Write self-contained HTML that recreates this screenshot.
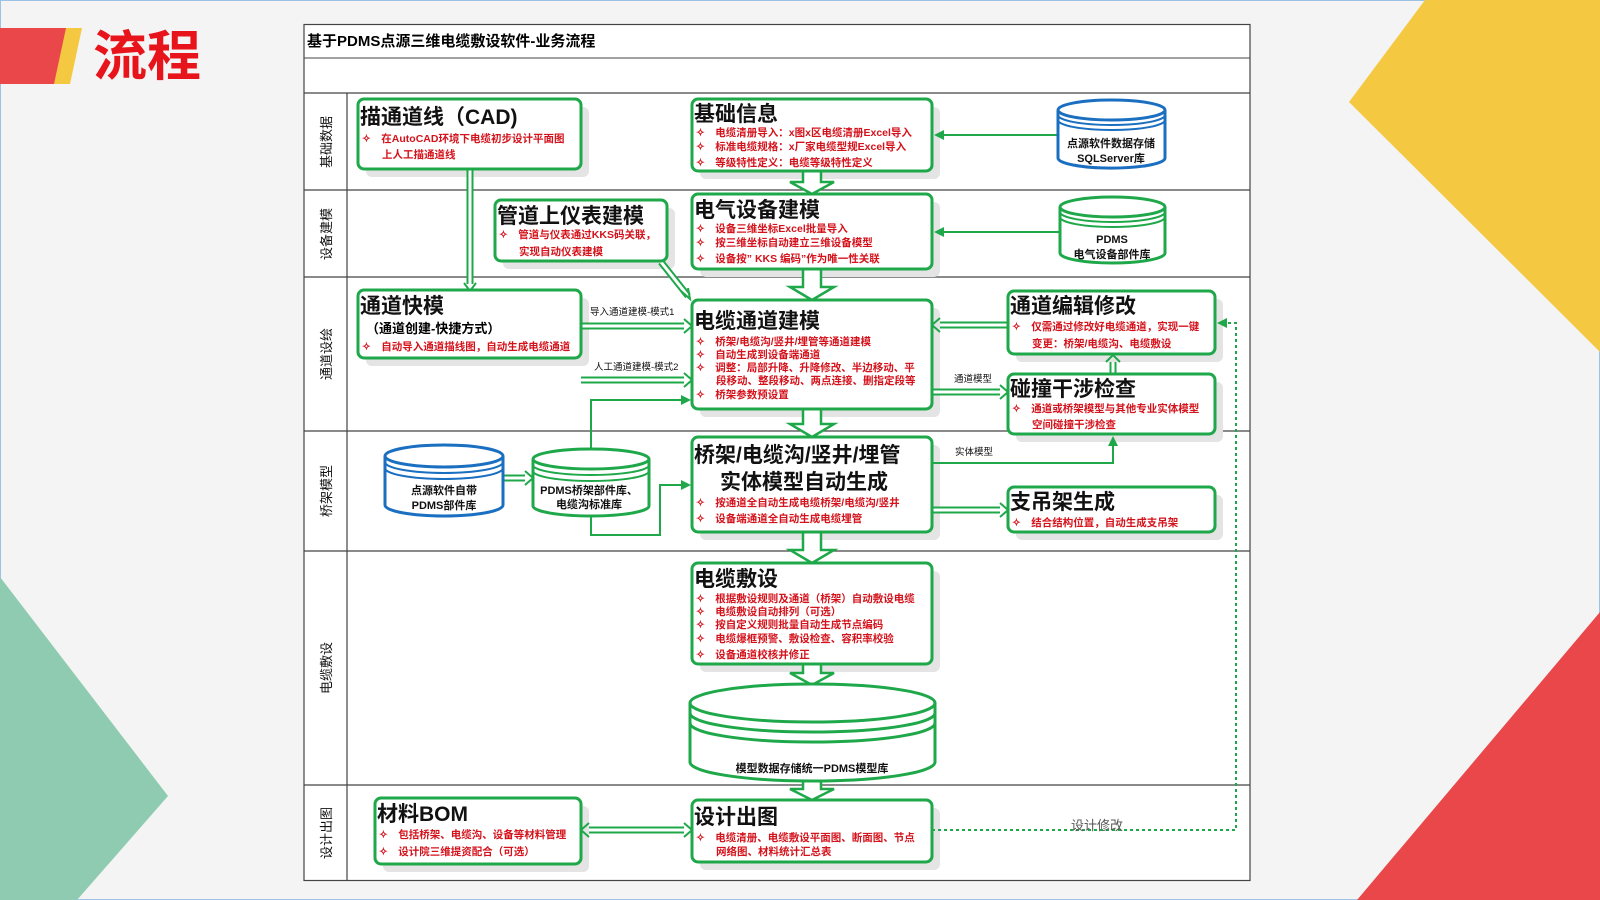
<!DOCTYPE html>
<html><head><meta charset="utf-8"><style>
html,body{margin:0;padding:0;width:1600px;height:900px;overflow:hidden;background:#f4f4f4}
svg{display:block}
text{font-family:"Liberation Sans","Noto Sans CJK SC",sans-serif}
.t{font-size:21px;font-weight:bold;fill:#111}
.b{font-size:10.5px;font-weight:bold;fill:#d4121b}
.bx{fill:#fff;stroke:#1fa84a;stroke-width:3}
.sh{fill:#e4e4e4}
.ln{fill:none;stroke:#1fa84a;stroke-width:2}
.dl{fill:none;stroke:#1fa84a;stroke-width:7}
.dw{fill:none;stroke:#fff;stroke-width:3}
.lane{font-size:13px;fill:#111}
.lb{font-size:9.5px;fill:#111}
</style></head><body>
<svg width="1600" height="900" viewBox="0 0 1600 900">
<defs>
<marker id="ah" markerWidth="10" markerHeight="10" refX="8" refY="5" orient="auto" markerUnits="userSpaceOnUse"><path d="M0,0 L10,5 L0,10 Z" fill="#1fa84a"/></marker>
</defs>
<rect x="0.5" y="0.5" width="1599" height="899" fill="#f4f4f4" stroke="#9cc3e6"/>
<polygon points="1425,0 1600,0 1600,352 1349,102" fill="#f5c842"/>
<polygon points="0,577 168,796 77,900 0,900" fill="#8ecbb0"/>
<polygon points="1600,612 1357,900 1600,900" fill="#e9474a"/>
<polygon points="0,28 68,28 57,84 0,84" fill="#e9474a"/>
<polygon points="66,28 82,28 70,84 54,84" fill="#f5c842"/>
<text x="93" y="75" style="font-size:54px;font-weight:bold;fill:#e8141c">流程</text>

<rect x="304" y="24.5" width="946" height="856" fill="#fff" stroke="#444" stroke-width="1.2"/>
<line x1="304" y1="58" x2="1250" y2="58" stroke="#444"/>
<text x="307" y="46" style="font-size:15px;font-weight:bold">基于PDMS点源三维电缆敷设软件-业务流程</text>
<g stroke="#444" stroke-width="1.2">
<line x1="304" y1="93" x2="1250" y2="93"/><line x1="304" y1="190" x2="1250" y2="190"/>
<line x1="304" y1="277" x2="1250" y2="277"/><line x1="304" y1="431" x2="1250" y2="431"/>
<line x1="304" y1="551" x2="1250" y2="551"/><line x1="304" y1="785" x2="1250" y2="785"/>
<line x1="347" y1="93" x2="347" y2="881"/>
</g>
<g class="lane">
<text transform="translate(331,142) rotate(-90)" text-anchor="middle">基础数据</text>
<text transform="translate(331,234) rotate(-90)" text-anchor="middle">设备建模</text>
<text transform="translate(331,354) rotate(-90)" text-anchor="middle">通道设绘</text>
<text transform="translate(331,491) rotate(-90)" text-anchor="middle">桥架模型</text>
<text transform="translate(331,668) rotate(-90)" text-anchor="middle">电缆敷设</text>
<text transform="translate(331,833) rotate(-90)" text-anchor="middle">设计出图</text>
</g>

<g class="sh">
<rect x="366" y="107" width="223" height="70" rx="6"/><rect x="700" y="107" width="240" height="72" rx="6"/>
<rect x="503" y="208" width="172" height="61" rx="6"/><rect x="700" y="202" width="240" height="75" rx="6"/>
<rect x="366" y="298" width="223" height="68" rx="6"/><rect x="700" y="308" width="240" height="109" rx="6"/>
<rect x="1016" y="299" width="207" height="63" rx="6"/><rect x="1016" y="382" width="207" height="60" rx="6"/>
<rect x="700" y="445" width="240" height="95" rx="6"/><rect x="1016" y="495" width="207" height="45" rx="6"/>
<rect x="700" y="571" width="240" height="101" rx="6"/><rect x="383" y="806" width="206" height="66" rx="6"/>
<rect x="700" y="808" width="240" height="62" rx="6"/>
</g>

<g fill="#fff" stroke="#1fa84a" stroke-width="2.5">
<polygon points="803,171 821,171 821,182 834,182 812,194 790,182 803,182"/>
<polygon points="803,269 821,269 821,287 834,287 812,300 790,287 803,287"/>
<polygon points="803,409 821,409 821,424 834,424 812,437 790,424 803,424"/>
<polygon points="803,532 821,532 821,550 834,550 812,563 790,550 803,550"/>
<polygon points="803,664 821,664 821,673 834,673 812,685 790,673 803,673"/>
<polygon points="803,781 821,781 821,789 834,789 812,800 790,789 803,789"/>
</g>

<g>
<path class="dl" d="M470,169 V284"/><path class="dw" d="M470,169 V284"/>
<path class="dl" d="M661,262 L688,296"/><path class="dw" d="M661,262 L688,296"/>
<path class="dl" d="M581,326 H684"/><path class="dw" d="M581,326 H684"/>
<path class="dl" d="M581,380 H684"/><path class="dw" d="M581,380 H684"/>
<path class="dl" d="M503,478 H525"/><path class="dw" d="M503,478 H525"/>
<path class="dl" d="M1008,325 H940"/><path class="dw" d="M1008,325 H940"/>
<path class="dl" d="M932,392 H1000"/><path class="dw" d="M932,392 H1000"/>
<path class="dl" d="M1113,374 V362"/><path class="dw" d="M1113,374 V362"/>
<path class="dl" d="M932,510 H1000"/><path class="dw" d="M932,510 H1000"/>
<path class="dl" d="M589,830 H684"/><path class="dw" d="M589,830 H684"/>
</g>
<g fill="none" stroke="#1fa84a" stroke-width="2">
<path d="M464,283 L470,291 L476,283"/><path d="M681,291 L690,299 L688,288"/>
<path d="M684,319 L692,326 L684,333"/><path d="M684,373 L692,380 L684,387"/>
<path d="M525,471 L533,478 L525,485"/><path d="M940,318 L932,325 L940,332"/>
<path d="M1000,385 L1008,392 L1000,399"/><path d="M1106,362 L1113,355 L1120,362"/>
<path d="M1000,503 L1008,510 L1000,517"/><path d="M684,823 L692,830 L684,837"/>
<path d="M589,823 L581,830 L589,837"/>
</g>

<g class="ln">
<path d="M1058,135 H936" marker-end="url(#ah)"/>
<path d="M1060,232 H936" marker-end="url(#ah)"/>
<path d="M591,449 V400 H689" marker-end="url(#ah)"/>
<path d="M591,516 V535 H660 V485 H689" marker-end="url(#ah)"/>
<path d="M932,463 H1113 V438" marker-end="url(#ah)"/>
<path d="M932,830 H1236 V323 H1219" stroke-dasharray="3,3" marker-end="url(#ah)"/>
</g>
<g class="lb">
<text x="590" y="315">导入通道建模-模式1</text>
<text x="594" y="370">人工通道建模-模式2</text>
<text x="954" y="382">通道模型</text>
<text x="955" y="455">实体模型</text>
<text x="1071" y="830" style="font-size:13px;fill:#555">设计修改</text>
</g>

<rect class="bx" x="358" y="99" width="223" height="70" rx="6"/>
<text class="t" x="360" y="124">描通道线（CAD)</text>
<text class="b" x="362" y="142">✧　在AutoCAD环境下电缆初步设计平面图</text>
<text class="b" x="382" y="158">上人工描通道线</text>

<rect class="bx" x="692" y="99" width="240" height="72" rx="6"/>
<text class="t" x="694" y="121">基础信息</text>
<text class="b" x="696" y="136">✧　电缆清册导入：x图x区电缆清册Excel导入</text>
<text class="b" x="696" y="150">✧　标准电缆规格：x厂家电缆型规Excel导入</text>
<text class="b" x="696" y="166">✧　等级特性定义：电缆等级特性定义</text>

<rect class="bx" x="495" y="200" width="172" height="61" rx="6"/>
<text class="t" x="497" y="223">管道上仪表建模</text>
<text class="b" x="499" y="238">✧　管道与仪表通过KKS码关联，</text>
<text class="b" x="519" y="255">实现自动仪表建模</text>

<rect class="bx" x="692" y="194" width="240" height="75" rx="6"/>
<text class="t" x="694" y="217">电气设备建模</text>
<text class="b" x="696" y="232">✧　设备三维坐标Excel批量导入</text>
<text class="b" x="696" y="246">✧　按三维坐标自动建立三维设备模型</text>
<text class="b" x="696" y="262">✧　设备按” KKS 编码”作为唯一性关联</text>

<rect class="bx" x="358" y="290" width="223" height="68" rx="6"/>
<text class="t" x="360" y="313">通道快模</text>
<text x="366" y="333" style="font-size:13px;font-weight:bold">（通道创建-快捷方式）</text>
<text class="b" x="362" y="350">✧　自动导入通道描线图，自动生成电缆通道</text>

<rect class="bx" x="692" y="300" width="240" height="109" rx="6"/>
<text class="t" x="694" y="328">电缆通道建模</text>
<text class="b" x="696" y="345">✧　桥架/电缆沟/竖井/埋管等通道建模</text>
<text class="b" x="696" y="358">✧　自动生成到设备端通道</text>
<text class="b" x="696" y="371">✧　调整：局部升降、升降修改、半边移动、平</text>
<text class="b" x="716" y="384">段移动、整段移动、两点连接、删指定段等</text>
<text class="b" x="696" y="398">✧　桥架参数预设置</text>

<rect class="bx" x="1008" y="291" width="207" height="63" rx="6"/>
<text class="t" x="1010" y="313">通道编辑修改</text>
<text class="b" x="1012" y="330">✧　仅需通过修改好电缆通道，实现一键</text>
<text class="b" x="1032" y="347">变更：桥架/电缆沟、电缆敷设</text>

<rect class="bx" x="1008" y="374" width="207" height="60" rx="6"/>
<text class="t" x="1010" y="396">碰撞干涉检查</text>
<text class="b" x="1012" y="412">✧　通道或桥架模型与其他专业实体模型</text>
<text class="b" x="1032" y="428">空间碰撞干涉检查</text>

<rect class="bx" x="692" y="437" width="240" height="95" rx="6"/>
<text class="t" x="694" y="462">桥架/电缆沟/竖井/埋管</text>
<text class="t" x="720" y="489">实体模型自动生成</text>
<text class="b" x="696" y="506">✧　按通道全自动生成电缆桥架/电缆沟/竖井</text>
<text class="b" x="696" y="522">✧　设备端通道全自动生成电缆埋管</text>

<rect class="bx" x="1008" y="487" width="207" height="45" rx="6"/>
<text class="t" x="1010" y="509">支吊架生成</text>
<text class="b" x="1012" y="526">✧　结合结构位置，自动生成支吊架</text>

<rect class="bx" x="692" y="563" width="240" height="101" rx="6"/>
<text class="t" x="694" y="586">电缆敷设</text>
<text class="b" x="696" y="602">✧　根据敷设规则及通道（桥架）自动敷设电缆</text>
<text class="b" x="696" y="615">✧　电缆敷设自动排列（可选）</text>
<text class="b" x="696" y="628">✧　按自定义规则批量自动生成节点编码</text>
<text class="b" x="696" y="642">✧　电缆爆框预警、敷设检查、容积率校验</text>
<text class="b" x="696" y="658">✧　设备通道校核并修正</text>

<rect class="bx" x="375" y="798" width="206" height="66" rx="6"/>
<text class="t" x="377" y="821">材料BOM</text>
<text class="b" x="379" y="838">✧　包括桥架、电缆沟、设备等材料管理</text>
<text class="b" x="379" y="855">✧　设计院三维提资配合（可选）</text>

<rect class="bx" x="692" y="800" width="240" height="62" rx="6"/>
<text class="t" x="694" y="824">设计出图</text>
<text class="b" x="696" y="841">✧　电缆清册、电缆敷设平面图、断面图、节点</text>
<text class="b" x="716" y="855">网络图、材料统计汇总表</text>

<g stroke-width="3" fill="#fff">
<g stroke="#1a6fc1">
<path d="M1058,110 V158 A53,10 0 0 0 1165,158 V110" />
<ellipse cx="1111.5" cy="110" rx="53.5" ry="10"/>
<path d="M1058,115 A53.5,10 0 0 0 1165,115 M1058,120 A53.5,10 0 0 0 1165,120" fill="none" stroke-width="2"/>
<path d="M385,456 V505 A59,11 0 0 0 503,505 V456"/>
<ellipse cx="444" cy="456" rx="59" ry="11"/>
<path d="M385,462 A59,11 0 0 0 503,462 M385,468 A59,11 0 0 0 503,468" fill="none" stroke-width="2"/>
</g>
<g stroke="#1fa84a">
<path d="M1060,207 V253 A52.5,10 0 0 0 1165,253 V207"/>
<ellipse cx="1112.5" cy="207" rx="52.5" ry="10"/>
<path d="M1060,212 A52.5,10 0 0 0 1165,212 M1060,217 A52.5,10 0 0 0 1165,217" fill="none" stroke-width="2"/>
<path d="M533,459 V506 A58,10 0 0 0 649,506 V459"/>
<ellipse cx="591" cy="459" rx="58" ry="10"/>
<path d="M533,465 A58,10 0 0 0 649,465 M533,471 A58,10 0 0 0 649,471" fill="none" stroke-width="2"/>
<path d="M690,703 V762 A122.5,19 0 0 0 935,762 V703"/>
<ellipse cx="812.5" cy="703" rx="122.5" ry="19"/>
<path d="M690,713 A122.5,19 0 0 0 935,713 M690,723 A122.5,19 0 0 0 935,723" fill="none"/>
</g>
</g>
<g style="font-size:11px;font-weight:bold;fill:#111" text-anchor="middle">
<text x="1111" y="147">点源软件数据存储</text><text x="1111" y="162">SQLServer库</text>
<text x="1112" y="243">PDMS</text><text x="1112" y="258">电气设备部件库</text>
<text x="444" y="494">点源软件自带</text><text x="444" y="509">PDMS部件库</text>
<text x="589" y="494">PDMS桥架部件库、</text><text x="589" y="508">电缆沟标准库</text>
<text x="812" y="772">模型数据存储统一PDMS模型库</text>
</g>
</svg>
</body></html>
